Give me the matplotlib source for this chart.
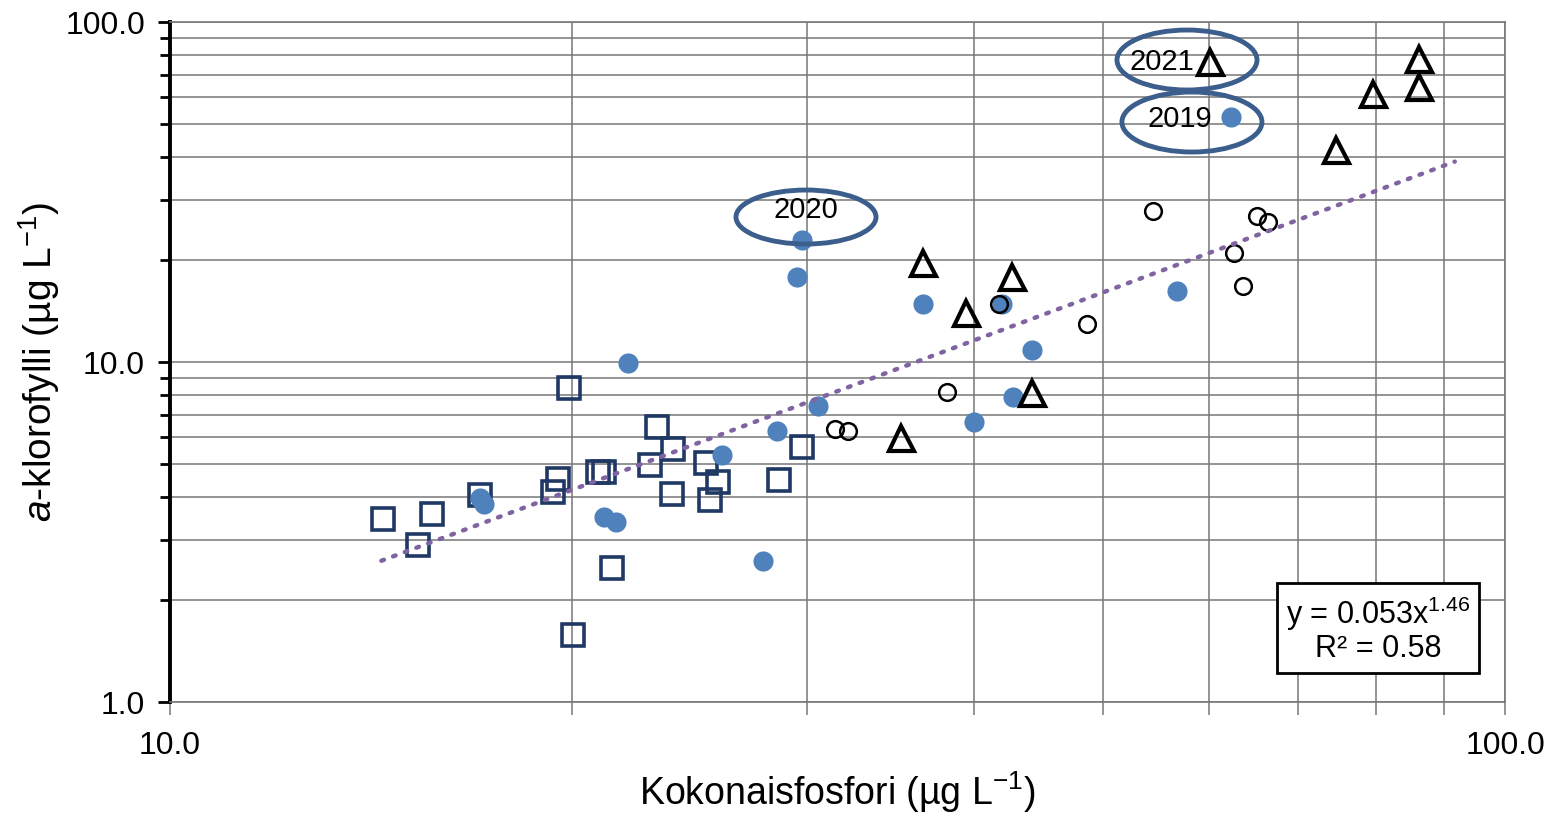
import numpy as np
import matplotlib.pyplot as plt
from matplotlib.patches import Ellipse
from matplotlib.ticker import FixedLocator, NullFormatter, FormatStrFormatter

plt.rcParams['font.family'] = ['Liberation Sans', 'DejaVu Sans']
plt.rcParams['mathtext.fontset'] = 'custom'
plt.rcParams['mathtext.rm'] = 'Liberation Sans'
plt.rcParams['mathtext.it'] = 'Liberation Sans:italic'

# Kokonaisfosfori (x) ja a-klorofylli (y), µg/L
sq_tp = [14.44, 15.34, 15.72, 17.07, 19.36, 19.52, 19.90, 20.04, 20.92, 21.14,
         21.43, 22.88, 23.16, 23.81, 23.77, 25.21, 25.38, 25.73, 28.59, 29.75]
sq_chl = [3.45, 2.90, 3.57, 4.06, 4.15, 4.53, 8.38, 1.57, 4.75, 4.75,
          2.48, 4.98, 6.44, 5.55, 4.09, 5.05, 3.93, 4.44, 4.50, 5.62]

dot_tp = [17.07, 17.18, 21.14, 21.58, 22.04, 25.91, 27.81, 28.50, 30.58, 29.49,
          29.75, 36.65, 40.02, 42.0, 42.8, 44.2, 56.8, 62.35]
dot_chl = [3.98, 3.82, 3.50, 3.38, 9.95, 5.33, 2.60, 6.27, 7.42, 17.8,
           22.85, 14.8, 6.66, 14.8, 7.89, 10.85, 16.2, 52.5]

ring_tp = [31.49, 32.2, 38.2, 41.8, 48.6, 54.5, 62.7, 63.6, 65.2, 66.4]
ring_chl = [6.35, 6.27, 8.16, 14.8, 12.9, 27.8, 20.9, 16.7, 26.9, 25.8]

tri_tp = [35.3, 36.65, 39.5, 42.7, 44.2, 60.1, 74.7, 79.6, 86.2, 86.2]
tri_chl = [5.98, 19.5, 13.9, 17.8, 8.1, 76.3, 42.0, 61.4, 77.9, 64.4]

# potenssisovite y = a * x^b
fit_a = 0.053
fit_b = 1.46
fit_r2 = 0.58
fit_range = [14.4, 91.7]

# vuosimerkinnät: vuosi, piste
year_labels = ['2020', '2021', '2019']
year_tp = [29.75, 60.1, 62.35]
year_chl = [22.85, 76.3, 52.5]

fig = plt.figure(figsize=(15.56, 8.15), dpi=100)
ax = fig.add_axes([170 / 1556, 113 / 815, 1335 / 1556, 680 / 815])
ax.set_xscale('log')
ax.set_yscale('log')
ax.set_xlim(10, 100)
ax.set_ylim(1, 100)

grid_c = '#777777'
ax.grid(True, which='both', color=grid_c, linewidth=1.1)
ax.set_axisbelow(True)

ax.plot(sq_tp, sq_chl, 's', ms=16, mfc='none', mec='#1f3864', mew=2.6, zorder=3)
ax.plot(dot_tp, dot_chl, 'o', ms=14.5, mfc='#4f81bd', mec='#4f81bd', mew=0, zorder=3)
ax.plot(ring_tp, ring_chl, 'o', ms=12, mfc='none', mec='black', mew=1.8, zorder=3)
ax.plot(tri_tp, tri_chl, '^', ms=18, mfc='none', mec='black', mew=3, zorder=3)

xf = np.geomspace(fit_range[0], fit_range[1], 200)
ax.plot(xf, fit_a * xf ** fit_b, color='#8064a2', lw=3.2, ls=(0, (0.6, 2.2)),
        dash_capstyle='round', zorder=4)

ax.text(0.9049, 0.1074, 'y = %.3fx$^{%.2f}$\nR² = %.2f' % (fit_a, fit_b, fit_r2),
        transform=ax.transAxes, ha='center', va='center', fontsize=22,
        linespacing=1.05, zorder=5,
        bbox=dict(boxstyle='square,pad=0.3', fc='white', ec='black', lw=2))

# vuosien tekstit ja ympäröivät ellipsit
offsets = [(4, 30), (-48, 0), (-51, -2)]
for lab, x, y, off in zip(year_labels, year_tp, year_chl, offsets):
    ax.annotate(lab, xy=(x, y), xytext=off, textcoords='offset pixels',
                ha='center', va='center', fontsize=21, zorder=6)
ell = [((0.4764, 0.7132), 0.1049, 0.0794),
       ((0.7618, 0.9441), 0.1049, 0.0882),
       ((0.7655, 0.8529), 0.1049, 0.0882)]
for c, w, h in ell:
    ax.add_patch(Ellipse(c, w, h, transform=ax.transAxes, fill=False,
                         ec='#3b5e8c', lw=3.5, zorder=6, clip_on=False))

for s in ['top', 'right', 'bottom']:
    ax.spines[s].set_color(grid_c)
    ax.spines[s].set_linewidth(1.2)
ax.spines['left'].set_color('black')
ax.spines['left'].set_linewidth(2.8)

ax.xaxis.set_major_locator(FixedLocator([10, 100]))
ax.yaxis.set_major_locator(FixedLocator([1, 10, 100]))
ax.xaxis.set_major_formatter(FormatStrFormatter('%.1f'))
ax.yaxis.set_major_formatter(FormatStrFormatter('%.1f'))
ax.xaxis.set_minor_formatter(NullFormatter())
ax.yaxis.set_minor_formatter(NullFormatter())
ax.tick_params(axis='y', which='both', direction='out', color='black',
               width=2, labelsize=23, pad=9)
ax.tick_params(axis='y', which='major', length=9)
ax.tick_params(axis='y', which='minor', length=7)
ax.tick_params(axis='x', which='both', direction='out', color=grid_c,
               width=1.1, length=9, labelsize=23, pad=12)

ax.set_xlabel('Kokonaisfosfori (µg L$^{-1}$)', fontsize=27, labelpad=6)
ax.set_ylabel('$\\it{a}$-klorofylli (µg L$^{-1}$)', fontsize=28, labelpad=2)

fig.savefig('out.png', dpi=100)
